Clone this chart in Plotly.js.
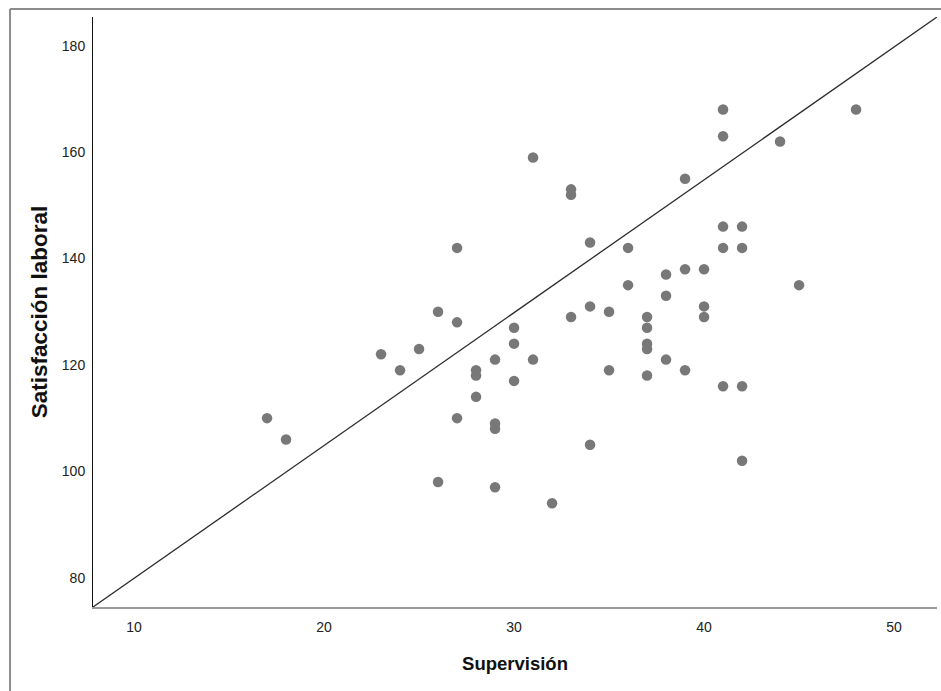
<!DOCTYPE html>
<html>
<head>
<meta charset="utf-8">
<script src="https://cdn.plot.ly/plotly-3.0.1.min.js"></script>
<style>
  html, body { margin: 0; padding: 0; background: #fff; }
  #chart { width: 941px; height: 691px; }
</style>
</head>
<body>
<div id="chart"></div>
<script>
// Supervisión (x) vs Satisfacción laboral (y)
const supervision = [17,18,23,24,25,26,26,27,27,27,28,28,28,29,29,29,29,30,30,30,31,31,32,33,33,33,34,34,34,35,35,36,36,37,37,37,37,37,38,38,38,39,39,39,40,40,40,41,41,41,41,41,42,42,42,42,44,45,48];
const satisfaccion = [110,106,122,119,123,130,98,142,128,110,119,118,114,121,109,108,97,127,124,117,159,121,94,153,152,129,143,131,105,130,119,142,135,129,127,124,123,118,137,133,121,138,119,155,138,131,129,168,163,146,142,116,146,142,116,102,162,135,168];

// reference line endpoints (corner to corner of the plot)
const lineX = [7.84, 52.26];
const lineY = [74.5, 185.4];

const xTicks = [10, 20, 30, 40, 50];
const yTicks = [80, 100, 120, 140, 160, 180];

const FONT = '"Liberation Sans", Arial, sans-serif';

const traces = [
  {
    x: lineX, y: lineY, type: 'scatter', mode: 'lines',
    line: { color: '#2b2b2b', width: 1.3 },
    hoverinfo: 'skip', showlegend: false
  },
  {
    x: supervision, y: satisfaccion, type: 'scatter', mode: 'markers',
    marker: { color: '#787878', size: 10.5, line: { width: 0 } },
    showlegend: false
  }
];

const layout = {
  width: 941, height: 691,
  margin: { l: 93, r: 4, t: 17, b: 84, pad: 0 },
  paper_bgcolor: '#ffffff', plot_bgcolor: '#ffffff',
  font: { family: FONT, color: '#222' },
  showlegend: false,
  xaxis: {
    range: [lineX[0], lineX[1]],
    tickvals: xTicks, ticktext: xTicks.map(String),
    showgrid: false, zeroline: false,
    showline: true, linecolor: '#9a9a9a', linewidth: 1.5,
    ticks: 'outside', ticklen: 7, tickcolor: 'rgba(0,0,0,0)',
    tickfont: { family: FONT, size: 14, color: '#222' },
    title: { text: 'Supervisión', font: { family: FONT, size: 18.5, weight: 'bold', color: '#111' }, standoff: 23 },
    automargin: false
  },
  yaxis: {
    range: [lineY[0], lineY[1]],
    tickvals: yTicks, ticktext: yTicks.map(String),
    showgrid: false, zeroline: false,
    showline: true, linecolor: '#111', linewidth: 1,
    ticks: 'outside', ticklen: 4, tickcolor: 'rgba(0,0,0,0)',
    tickfont: { family: FONT, size: 14, color: '#222' },
    title: { text: 'Satisfacción laboral', font: { family: FONT, size: 22.5, weight: 'bold', color: '#111' }, standoff: 7 },
    automargin: false
  },
  shapes: [
    { type: 'line', xref: 'paper', yref: 'paper', x0: -0.0983, x1: -0.0983, y0: -0.16, y1: 1.0136,
      line: { color: '#8c8c8c', width: 2 } },
    { type: 'line', xref: 'paper', yref: 'paper', x0: -0.0983, x1: 1.01, y0: 1.0136, y1: 1.0136,
      line: { color: '#8c8c8c', width: 2 } }
  ]
};

Plotly.newPlot('chart', traces, layout, { staticPlot: true, displayModeBar: false });
</script>
</body>
</html>
